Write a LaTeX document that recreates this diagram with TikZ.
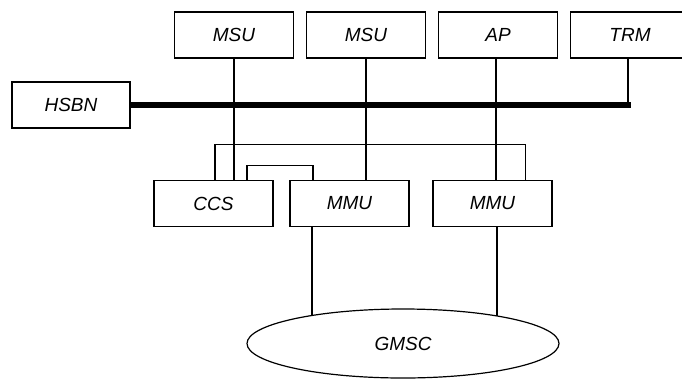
\documentclass[tikz,border=0pt]{standalone}
\usepackage{fontspec}
\setmainfont{Liberation Sans}
\usetikzlibrary{shapes.geometric,positioning}

\begin{document}
\begin{tikzpicture}[
    x=1pt, y=1pt,
    node distance=13pt,
    unit/.style={rectangle, draw=black, line width=1.2pt, minimum width=119pt, minimum height=46pt, inner sep=0pt, outer sep=0pt, font=\fontsize{19}{21}\selectfont\itshape},
    hub/.style={ellipse, draw=black, line width=1.2pt, minimum width=312pt, minimum height=69pt, inner sep=0pt, outer sep=0pt, font=\fontsize{19}{21}\selectfont\itshape},
    wire/.style={line width=1.2pt, black},
    bus/.style={line width=6pt, black}
]
    \useasboundingbox (0,0) rectangle (682,-378);

    % Obere Reihe: Teilnehmer am Bus
    \node[unit] (msu1) at (234,-35) {MSU};
    \node[unit, right=of msu1] (msu2) {MSU};
    \node[unit, right=of msu2] (ap) {AP};
    \node[unit, right=of ap] (trm) {TRM};

    % Bus
    \node[unit, minimum width=118pt] (hsbn) at (71,-105) {HSBN};
    \coordinate (busend) at (631,-105);
    \draw[bus] (hsbn.east) -- (busend);

    % Untere Reihe
    \node[unit] (ccs) at (213.5,-203.5) {CCS};
    \node[unit, right=17pt of ccs] (mmu1) {MMU};
    \node[unit, right=24pt of mmu1] (mmu2) {MMU};

    \node[hub] (gmsc) at (403,-343.5) {GMSC};

    \draw[wire] (msu1.south) -- (msu1.south |- ccs.north);
    \draw[wire] (msu2.south) -- (msu2.south |- mmu1.north);
    \draw[wire] ([xshift=-2pt]ap.south) -- ([xshift=-2pt]ap.south |- mmu2.north);
    \draw[wire] ([xshift=-2pt]trm.south) -- ([xshift=-2pt]trm.south |- busend);

    \draw[wire] ([xshift=1.5pt]ccs.north) -- ++(0,36) -| ([xshift=33pt]mmu2.north);
    \draw[wire] ([xshift=33.5pt]ccs.north) -- ++(0,15) -| ([xshift=-36.5pt]mmu1.north);

    \draw[wire] ([xshift=-37.5pt]mmu1.south) -- ([xshift=-37.5pt]mmu1.south |- gmsc.162.8);
    \draw[wire] ([xshift=4.5pt]mmu2.south) -- ([xshift=4.5pt]mmu2.south |- gmsc.16.6);
\end{tikzpicture}
\end{document}
